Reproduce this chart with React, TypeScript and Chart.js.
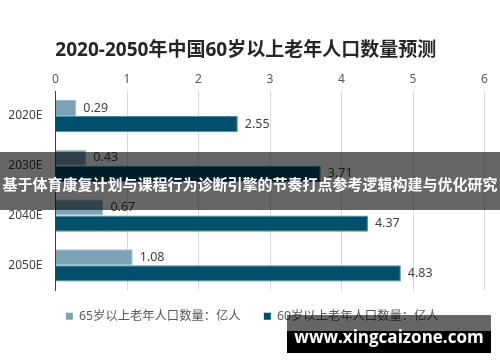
import React, { useEffect, useRef } from "react";
import { Chart, registerables } from "chart.js";

Chart.register(...registerables);

const categories = ["2020E", "2030E", "2040E", "2050E"];
const pop65 = [0.29, 0.43, 0.67, 1.08];
const pop60 = [2.55, 3.71, 4.37, 4.83];
const seriesNames = ["65岁以上老年人口数量：亿人", "60岁以上老年人口数量：亿人"];
const titleText = "2020-2050年中国60岁以上老年人口数量预测";
const bannerText = "基于体育康复计划与课程行为诊断引擎的节奏打点参考逻辑构建与优化研究";
const watermarkText = "www.xingcaizone.com";

const FONT = "'Noto Sans', 'Noto Sans CJK SC', sans-serif";

const barLabels = {
  id: "barLabels",
  afterDatasetsDraw(chart: any) {
    const ctx = chart.ctx;
    ctx.save();
    ctx.font = `12.5px ${FONT}`;
    ctx.fillStyle = "#404040";
    ctx.textAlign = "left";
    ctx.textBaseline = "middle";
    chart.data.datasets.forEach((ds: any, i: number) => {
      const meta = chart.getDatasetMeta(i);
      meta.data.forEach((el: any, j: number) => {
        ctx.fillText(ds.data[j].toFixed(2), el.x + 7, el.y);
      });
    });
    ctx.restore();
  },
};

// nudge the legend box to the right so it is centred like the original
const legendShift = {
  id: "legendShift",
  afterLayout(chart: any) {
    const lg = chart.legend;
    if (lg) {
      lg.left += 6.5;
      lg.right += 6.5;
    }
  },
};

export default function App() {
  const ref = useRef<HTMLCanvasElement>(null);
  useEffect(() => {
    if (!ref.current) return;
    const chart = new Chart(ref.current, {
      type: "bar",
      data: {
        labels: categories,
        datasets: [
          {
            label: seriesNames[0],
            data: pop65,
            backgroundColor: "#7ba3b6",
            borderColor: "#9bbccb",
            borderWidth: 1,
            categoryPercentage: 0.65,
            barPercentage: 1.0,
          },
          {
            label: seriesNames[1],
            data: pop60,
            backgroundColor: "#004f6c",
            borderColor: "#4b8aa6",
            borderWidth: 1,
            categoryPercentage: 0.65,
            barPercentage: 1.0,
          },
        ],
      },
      options: {
        indexAxis: "y",
        responsive: false,
        animation: false,
        layout: { padding: { left: 7, right: 15.5, top: 0, bottom: 29.5 } },
        scales: {
          x: {
            position: "top",
            min: 0,
            max: 6,
            ticks: { stepSize: 1, color: "#595959", font: { size: 12, family: FONT }, padding: 4 },
            grid: { color: "#d9d9d9", drawTicks: false },
            border: { display: false },
          },
          y: {
            ticks: { color: "#404040", font: { size: 12, family: FONT }, padding: 13 },
            grid: { display: false, drawTicks: false },
            border: { display: true, color: "#404040", width: 1 },
            afterFit(scale: any) {
              scale.width = 48.5;
            },
          },
        },
        plugins: {
          title: {
            display: true,
            text: titleText,
            color: "#262626",
            font: { size: 19, weight: "bold", family: FONT },
            padding: { top: 39, bottom: 7 },
          },
          legend: {
            position: "bottom",
            labels: {
              boxWidth: 7,
              boxHeight: 7,
              padding: 20,
              color: "#595959",
              font: { size: 12.3, family: FONT },
              generateLabels(chart: any) {
                const items = Chart.defaults.plugins.legend.labels.generateLabels(chart);
                items.forEach((it: any, i: number) => {
                  it.lineWidth = 0;
                  if (i === 0) it.text = it.text + " ";
                });
                return items;
              },
            },
          },
          tooltip: { enabled: false },
        },
      },
      plugins: [barLabels, legendShift],
    });
    return () => chart.destroy();
  }, []);

  return (
    <div style={{ position: "absolute", left: 0, top: 0, width: 500, height: 362, background: "#fff", overflow: "hidden" }}>
      <canvas ref={ref} width={500} height={362} style={{ display: "block" }} />
      <div
        style={{
          position: "absolute",
          left: 0,
          top: 152,
          width: 500,
          height: 58,
          background: "rgba(0,0,0,0.6)",
          color: "#fff",
          fontFamily: "'Noto Sans CJK SC', sans-serif",
          fontWeight: "bold",
          fontSize: 15,
          lineHeight: "58px",
          textAlign: "center",
          whiteSpace: "nowrap",
        }}
      >
        <span style={{ position: "relative", top: 3 }}>{bannerText}</span>
      </div>
      <div
        style={{
          position: "absolute",
          left: 287,
          top: 315,
          width: 204,
          height: 38,
          background: "linear-gradient(to bottom, rgba(0,0,0,0.6) 0px, rgba(0,0,0,0.6) 16px, #000 16px, #000 38px)",
          color: "#fff",
          fontFamily: "'Open Sans', sans-serif",
          fontWeight: "bold",
          fontSize: 17,
          lineHeight: "38px",
          textAlign: "center",
          whiteSpace: "nowrap",
        }}
      >
        <span style={{ position: "relative", top: 3 }}>{watermarkText}</span>
      </div>
    </div>
  );
}
